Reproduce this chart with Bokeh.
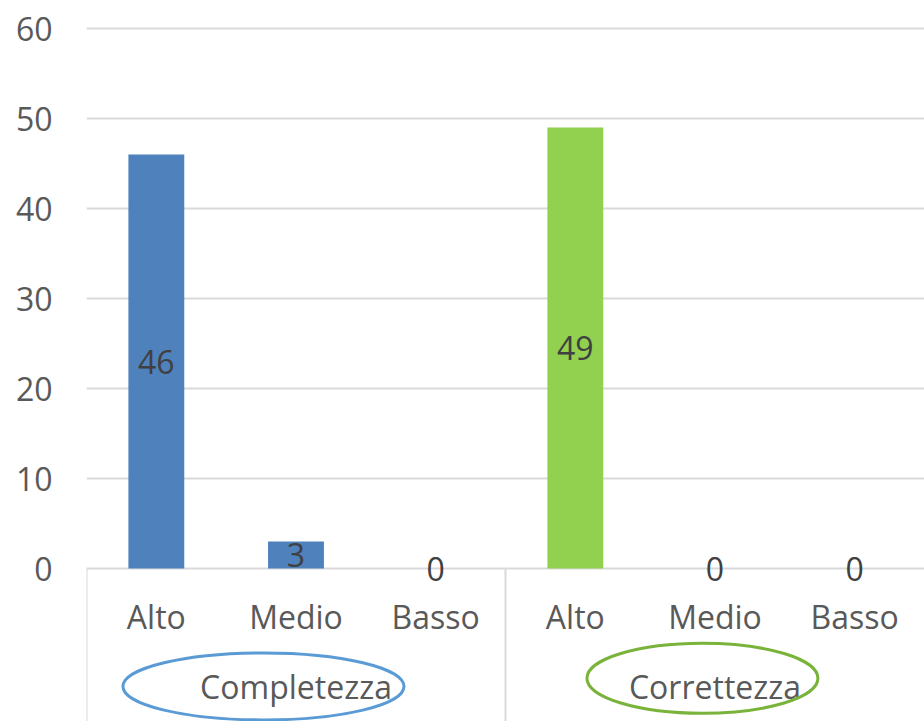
from bokeh.plotting import figure
from bokeh.models import FactorRange, Range1d, FixedTicker, ColumnDataSource
from bokeh.transform import factor_cmap
from bokeh.core.properties import value
from bokeh.embed import file_html
from bokeh.resources import INLINE

# Data
groups = ["Completezza", "Correttezza"]
levels = ["Alto", "Medio", "Basso"]
completezza = [46, 3, 0]
correttezza = [49, 0, 0]
y_ticks = [0, 10, 20, 30, 40, 50, 60]

factors = [(g, l) for g in groups for l in levels]
counts = completezza + correttezza

src = ColumnDataSource(data=dict(
    x=factors,
    top=counts,
    mid=[c / 2 for c in counts],
    label=[str(c) for c in counts],
    group=[g for g, _ in factors],
    level=[l for _, l in factors],
))

FONT = value("Open Sans")
GRID = "#D9D9D9"

p = figure(
    width=924, height=721,
    x_range=FactorRange(*factors, group_padding=0, range_padding=0),
    y_range=Range1d(-17, 60 + 28 / 9),
    output_backend="svg", toolbar_location=None,
    min_border=0, min_border_left=86,
)
p.outline_line_color = None
p.background_fill_color = "white"
p.border_fill_color = "white"

p.xaxis.visible = False
p.xgrid.visible = False

yax = p.yaxis[0]
yax.ticker = FixedTicker(ticks=y_ticks)
yax.axis_line_color = None
yax.major_tick_line_color = None
yax.minor_tick_line_color = None
yax.major_tick_out = 0
yax.major_tick_in = 0
yax.major_label_standoff = 34
yax.major_label_text_font = "Open Sans"
yax.major_label_text_font_size = "32px"
yax.major_label_text_color = "#595959"

p.ygrid.ticker = FixedTicker(ticks=y_ticks)
p.ygrid.grid_line_color = GRID
p.ygrid.grid_line_width = 2

# bars
p.vbar(x="x", top="top", width=0.4, source=src, line_color=None,
       fill_color=factor_cmap("x", palette=["#4F81BD", "#92D050"], factors=groups, end=1))

# value labels, centred in each bar
p.text(x="x", y="mid", text="label", source=src, text_align="center",
       text_baseline="middle", text_font=FONT, text_font_size="32px",
       text_color="#404040")

# group separators below the baseline
p.segment(x0=[("Completezza", "Alto", -0.5), ("Correttezza", "Alto", -0.5)],
          x1=[("Completezza", "Alto", -0.5), ("Correttezza", "Alto", -0.5)],
          y0=[0, 0], y1=[-17, -17], line_color=GRID, line_width=2)

# category labels
p.text(x="x", y=-5.3, text="level", source=src, text_align="center",
       text_baseline="middle", text_font=FONT, text_font_size="32px",
       text_color="#595959")

# group labels
p.text(x=groups, y=[-13.1, -13.1], text=groups, text_align="center",
       text_baseline="middle", text_font=FONT, text_font_size="32px",
       text_color="#595959")

# hand-drawn ellipses around the group names
p.ellipse(x=[("Completezza", -0.233)], y=[-13.1], width=[281], height=[67],
          width_units="screen", height_units="screen",
          fill_color=None, line_color="#5B9BD5", line_width=3)
p.ellipse(x=[("Correttezza", -0.09)], y=[-12.2], width=[231], height=[70],
          width_units="screen", height_units="screen",
          fill_color=None, line_color="#7AB33A", line_width=3)

open("out.html", "w").write(file_html(p, INLINE))
